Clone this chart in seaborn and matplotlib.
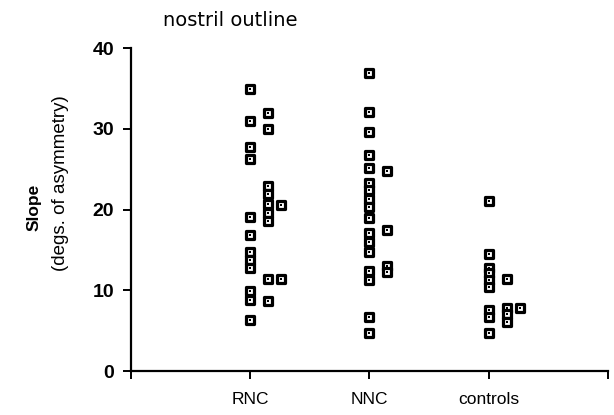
import numpy as np
import pandas as pd
import matplotlib
matplotlib.use('Agg')
import matplotlib.pyplot as plt
import seaborn as sns

# groups on the x axis
groups = ['RNC', 'NNC', 'controls']

# slope values (degs. of asymmetry), split into the side-by-side columns of each group
rnc_col0 = [34.9, 31.0, 27.7, 26.2, 19.1, 16.8, 14.8, 13.8, 12.7, 9.9, 8.8, 6.3]
rnc_col1 = [31.9, 30.0, 22.9, 21.9, 20.7, 19.6, 18.6, 11.4, 8.7]
rnc_col2 = [20.5, 11.4]
nnc_col0 = [36.9, 32.1, 29.6, 26.7, 25.2, 23.3, 22.4, 21.3, 20.3, 19.0,
            17.1, 16.0, 14.8, 12.4, 11.3, 6.7, 4.7]
nnc_col1 = [24.8, 17.5, 13.0, 12.3]
ctl_col0 = [21.0, 14.5, 12.8, 12.1, 11.3, 10.4, 7.5, 6.7, 4.7]
ctl_col1 = [11.4, 7.8, 7.1, 6.1]
ctl_col2 = [7.8]

series = [
    ('RNC', 0, rnc_col0), ('RNC', 1, rnc_col1), ('RNC', 2, rnc_col2),
    ('NNC', 0, nnc_col0), ('NNC', 1, nnc_col1),
    ('controls', 0, ctl_col0), ('controls', 1, ctl_col1), ('controls', 2, ctl_col2),
]

rows = []
for g, col, vals in series:
    for v in vals:
        rows.append({'group': g, 'col': col, 'slope': v})
df = pd.DataFrame(rows)

# horizontal shift for the 2nd / 3rd column within a group
col_shift = {0: 0.0, 1: 0.15, 2: 0.26}
df['x'] = df['group'].map({g: i for i, g in enumerate(groups)}) + df['col'].map(col_shift)

sns.set_style('white')
plt.rcParams['font.family'] = ['Liberation Sans', 'DejaVu Sans']
for k in ['text.color', 'axes.labelcolor', 'xtick.color', 'ytick.color']:
    plt.rcParams[k] = 'black'

fig = plt.figure(figsize=(6.14, 4.15), dpi=100)
ax = fig.add_axes([0.2134, 0.106, 0.7766, 0.7783])

# open squares (thick rim) with a small dot in the middle
sns.scatterplot(data=df, x='x', y='slope', ax=ax, marker='s', s=30,
                facecolor='white', edgecolor='black', linewidth=2.3, zorder=3)
sns.scatterplot(data=df, x='x', y='slope', ax=ax, marker='s', s=2,
                color='black', linewidth=0, zorder=4)

ax.set_xlim(-1, 3)
ax.set_ylim(0, 40)
ax.set_xticks([-1, 0, 1, 2, 3])
ax.set_xticklabels([''] + groups + [''], fontsize=12.5)
ax.set_yticks([0, 10, 20, 30, 40])
ax.set_yticklabels(['0', '10', '20', '30', '40'], fontsize=14, fontweight='bold')
ax.tick_params(axis='both', direction='out', length=6, width=1.4,
               bottom=True, left=True)
ax.tick_params(axis='x', pad=9)
ax.tick_params(axis='y', pad=6)
ax.set_xlabel('')
ax.set_ylabel('')
for side in ['top', 'right']:
    ax.spines[side].set_visible(False)
for side in ['left', 'bottom']:
    ax.spines[side].set_color('black')
    ax.spines[side].set_linewidth(1.6)

fig.text(0.265, 0.95, 'nostril outline', fontsize=14, ha='left', va='center',
         family=['DejaVu Sans'])
fig.text(0.055, 0.5, 'Slope', fontsize=12.5, fontweight='bold', rotation=90,
         ha='center', va='center')
fig.text(0.098, 0.558, '(degs. of asymmetry)', fontsize=13.5, rotation=90,
         ha='center', va='center')

fig.savefig('out.png', dpi=100)
